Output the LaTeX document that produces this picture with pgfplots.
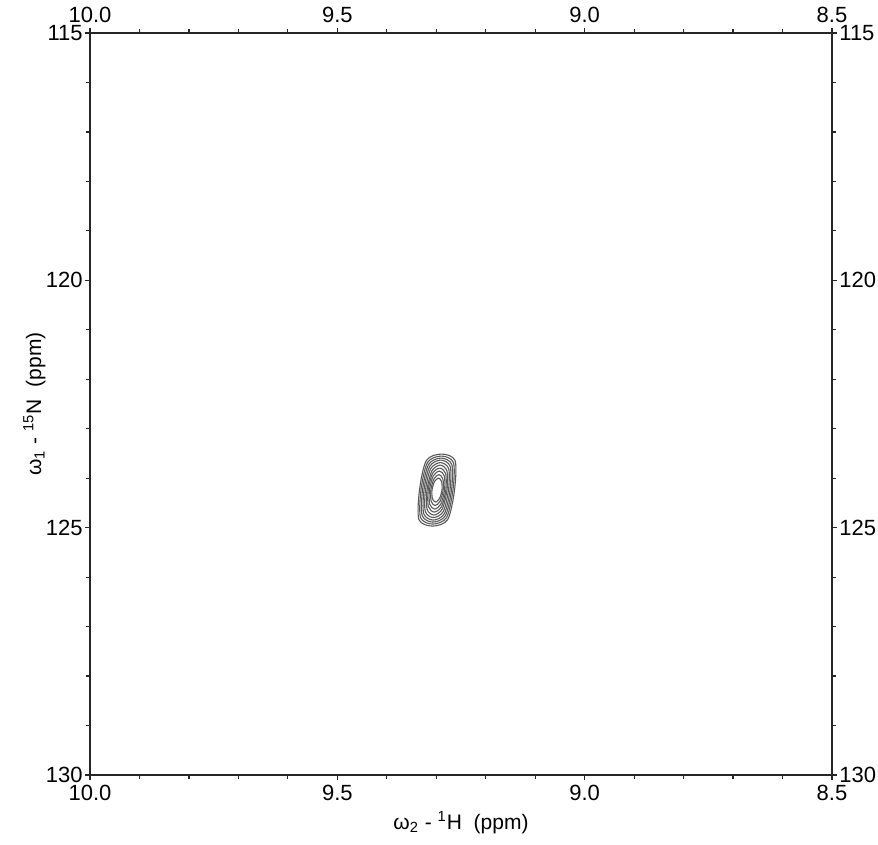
\documentclass[border=0pt]{standalone}
\usepackage{fontspec}
\setmainfont{Liberation Sans}
\usepackage{pgfplots}
\pgfplotsset{compat=1.18}
\begin{document}
\begin{tikzpicture}
\pgfplotsset{
  nmr/.style={
    at={(0,0)}, anchor=south west, scale only axis,
    width=371pt, height=371pt,
    xmin=8.5, xmax=10, ymin=115, ymax=130,
    x dir=reverse, y dir=reverse,
    xtick={8.5,9,9.5,10}, ytick={115,120,125,130},
    minor x tick num=4, minor y tick num=4,
    tick align=outside,
    major tick length=2.5pt, minor tick length=2pt,
    xtick pos=both, ytick pos=both,
    axis line style={line width=0.9pt, black!85},
    every tick/.style={black!85, line width=0.6pt},
    /pgf/number format/assume math mode=true,
    xticklabel style={/pgf/number format/fixed, /pgf/number format/fixed zerofill, /pgf/number format/precision=1},
    yticklabel style={/pgf/number format/fixed, /pgf/number format/precision=0},
    tick label style={font=\fontsize{11}{13}\selectfont, inner sep=1pt},
    label style={font=\fontsize{10.5}{12}\selectfont},
  }
}
\begin{axis}[nmr,
  xticklabel style={yshift=-1.5pt},
  xlabel={ω\textsubscript{2} - \textsuperscript{1}H\ \ (ppm)},
  ylabel={ω\textsubscript{1} - \textsuperscript{15}N\ \ (ppm)},
  xlabel style={at={(axis description cs:0.5,0)}, anchor=north, inner sep=0pt, yshift=-18pt},
  ylabel style={at={(axis description cs:-0.0593,0.5)}, anchor=south, inner sep=0pt},
]
\addplot[black!65, line width=0.55pt, smooth cycle] coordinates {(9.2631,124.24) (9.2770,124.8368) (9.3076,124.9678) (9.3350,124.8368) (9.3339,124.24) (9.3200,123.6432) (9.2894,123.5122) (9.2620,123.6432)};
\addplot[black!65, line width=0.55pt, smooth cycle] coordinates {(9.2662,124.24) (9.2793,124.7967) (9.3071,124.9273) (9.3317,124.7967) (9.3309,124.24) (9.3177,123.6833) (9.2899,123.5527) (9.2653,123.6833)};
\addplot[black!65, line width=0.55pt, smooth cycle] coordinates {(9.2692,124.24) (9.2815,124.7575) (9.3066,124.8869) (9.3284,124.7575) (9.3278,124.24) (9.3155,123.7225) (9.2904,123.5931) (9.2686,123.7225)};
\addplot[black!65, line width=0.55pt, smooth cycle] coordinates {(9.2722,124.24) (9.2837,124.7191) (9.3061,124.8465) (9.3253,124.7191) (9.3248,124.24) (9.3133,123.7609) (9.2909,123.6335) (9.2718,123.7609)};
\addplot[black!65, line width=0.55pt, smooth cycle] coordinates {(9.2753,124.24) (9.2858,124.6736) (9.3055,124.7959) (9.3221,124.6736) (9.3218,124.24) (9.3112,123.8064) (9.2916,123.6841) (9.2749,123.8064)};
\addplot[black!65, line width=0.55pt, smooth cycle] coordinates {(9.2783,124.24) (9.2879,124.6241) (9.3048,124.7454) (9.3187,124.6241) (9.3187,124.24) (9.3091,123.8559) (9.2922,123.7346) (9.2783,123.8559)};
\addplot[black!65, line width=0.55pt, smooth cycle] coordinates {(9.2807,124.24) (9.2893,124.5736) (9.3041,124.6848) (9.3160,124.5736) (9.3163,124.24) (9.3077,123.9064) (9.2929,123.7952) (9.2810,123.9064)};
\addplot[black!65, line width=0.55pt, smooth cycle] coordinates {(9.2833,124.24) (9.2908,124.5242) (9.3033,124.6241) (9.3133,124.5242) (9.3137,124.24) (9.3062,123.9558) (9.2937,123.8559) (9.2837,123.9558)};
\addplot[black!65, line width=0.55pt, smooth cycle] coordinates {(9.2860,124.24) (9.2923,124.4656) (9.3024,124.5533) (9.3103,124.4656) (9.3110,124.24) (9.3047,124.0144) (9.2946,123.9267) (9.2867,124.0144)};
\addplot[black!65, line width=0.55pt, smooth cycle] coordinates {(9.2884,124.24) (9.2935,124.4122) (9.3015,124.4826) (9.3078,124.4122) (9.3086,124.24) (9.3035,124.0678) (9.2955,123.9974) (9.2892,124.0678)};
\end{axis}
\begin{axis}[nmr, xticklabel pos=upper, yticklabel pos=right, xticklabel style={yshift=1.5pt}]
\end{axis}
\pgfresetboundingbox
\path[use as bounding box] (-45pt,-35pt) rectangle (394pt,387.5pt);
\end{tikzpicture}
\end{document}
